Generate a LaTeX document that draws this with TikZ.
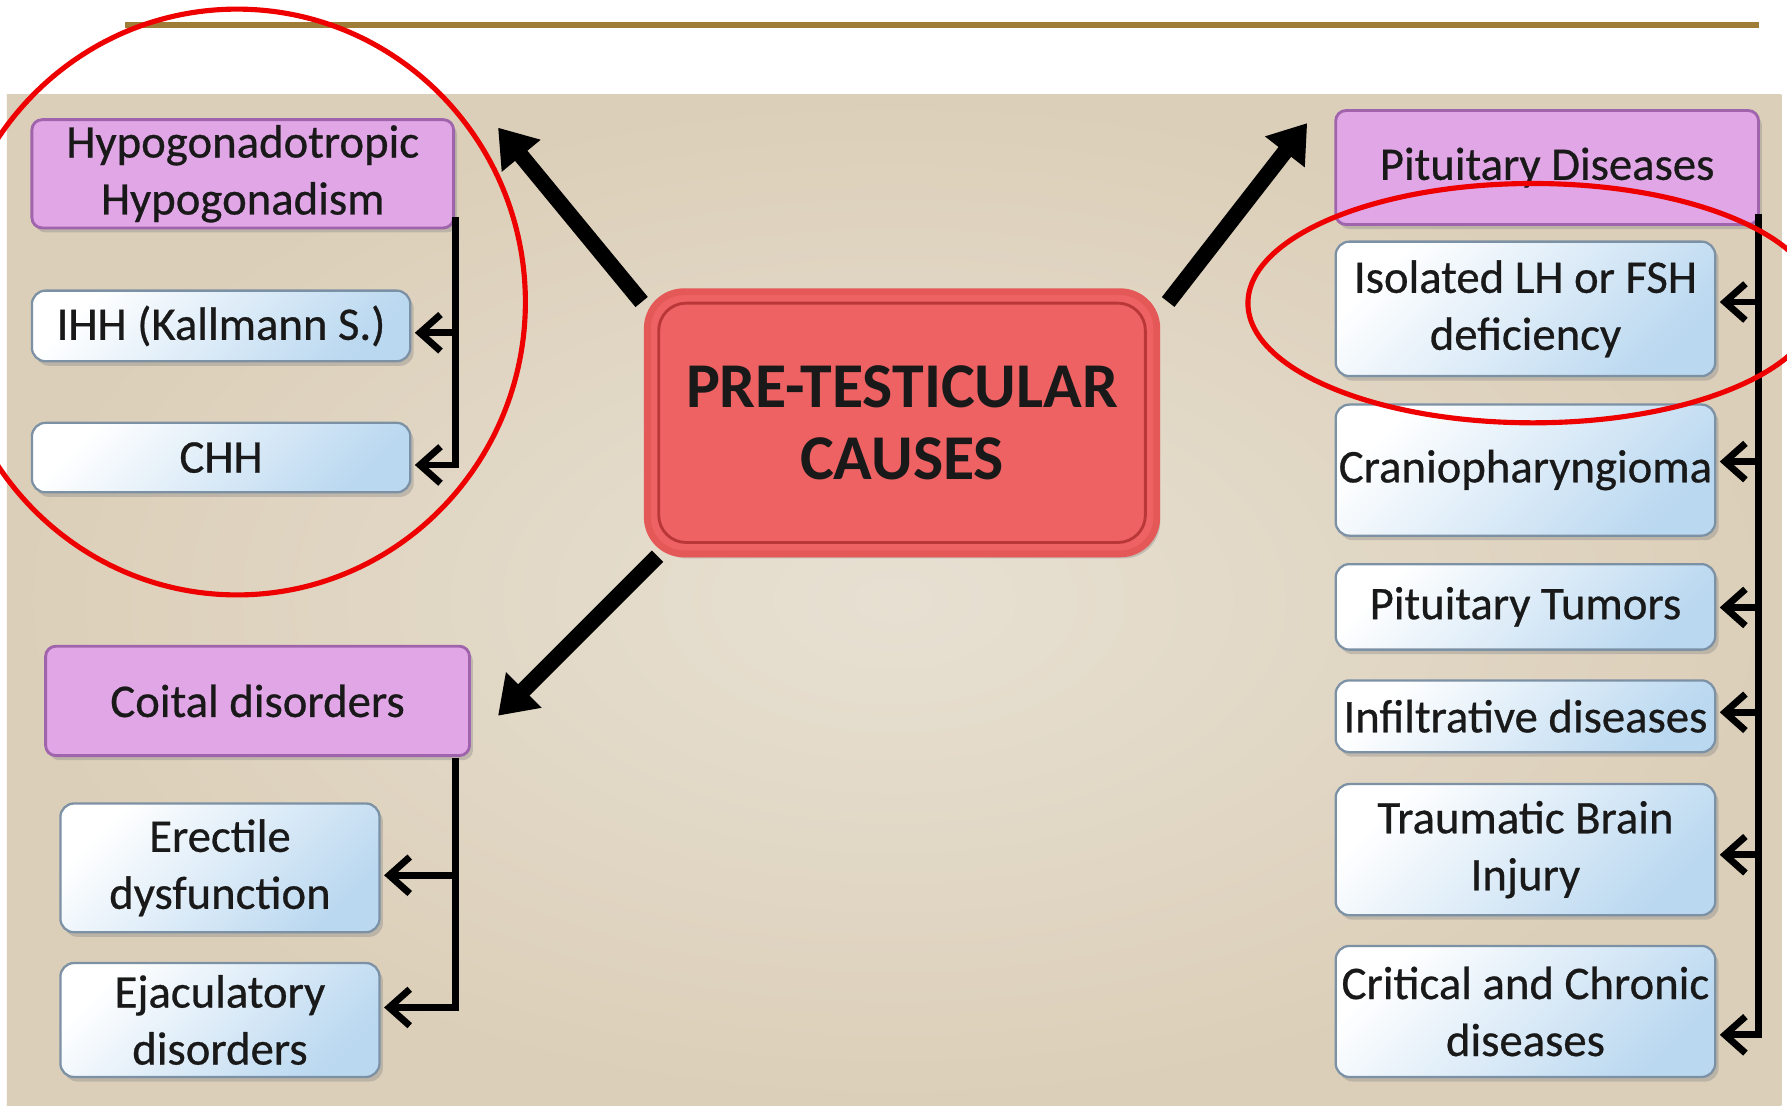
\documentclass[tikz,border=0pt]{standalone}
\usepackage{fontspec}
\setmainfont{Carlito}
\newfontfamily\boxfont{Carlito}[FakeBold=0.6]
\usetikzlibrary{arrows.meta,shadows}
\definecolor{gold}{RGB}{160,125,55}
\definecolor{bgin}{RGB}{231,224,210}
\definecolor{bgout}{RGB}{220,207,185}
\definecolor{purfill}{RGB}{224,166,230}
\definecolor{purline}{RGB}{160,100,172}
\definecolor{bluefill}{RGB}{186,216,240}
\definecolor{blueline}{RGB}{125,145,165}
\definecolor{redfill}{RGB}{238,98,100}
\definecolor{redring}{RGB}{228,88,88}
\definecolor{redline}{RGB}{185,55,55}
\definecolor{txt}{RGB}{25,25,25}
\definecolor{annred}{RGB}{238,0,0}
\tikzset{
  base/.style={inner sep=0pt, align=center, text=txt, font=\boxfont\fontsize{41}{50}\selectfont,
    drop shadow={shadow xshift=3pt, shadow yshift=-4pt, opacity=0.35}},
  purbox/.style={base, draw=purline, line width=2.5pt, fill=purfill, rounded corners=9pt},
  bluebox/.style={base, draw=blueline, line width=2pt, top color=white, bottom color=bluefill,
    shading angle=45, rounded corners=12pt},
  mainbox/.style={base, draw=redring, line width=6pt, fill=redfill, rounded corners=32pt,
    font=\fontsize{56}{64}\selectfont\bfseries},
  brk/.style={line width=6pt, black},
  barb/.style={brk, shorten >=3pt, -{Straight Barb[length=18pt,width=32pt,line width=6pt]}},
  bigarrow/.style={line width=14pt, black, -{Triangle[length=32pt,width=42pt]}},
  annot/.style={draw=annred, line width=4.5pt}
}
\begin{document}
\begin{tikzpicture}[x=1pt,y=-1pt]
\useasboundingbox (0,0) rectangle (1568,974);
\fill[white] (0,0) rectangle (1568,974);
% background panel
\shade[inner color=bgin, outer color=bgout] (6,83) rectangle (1563,970);
% gold rule
\draw[gold, line width=6pt] (110,22) -- (1543,22);

% centre node
\node[mainbox, minimum width=447pt, minimum height=230pt] (ptc) at (791.5,371) {PRE-TESTICULAR\\CAUSES};
\draw[redline, line width=2.5pt, rounded corners=24pt]
  ([xshift=13pt,yshift=-13pt]ptc.north west) rectangle ([xshift=-13pt,yshift=13pt]ptc.south east);

% left top group
\node[purbox, minimum width=370pt, minimum height=95pt] (hh) at (213,152.5) {Hypogonadotropic\\Hypogonadism};
\node[bluebox, minimum width=332pt, minimum height=62pt] (ihh) at (194,286) {IHH (Kallmann S.)};
\node[bluebox, minimum width=332pt, minimum height=61pt] (chh) at (194,401.5) {CHH};

% left bottom group
\node[purbox, minimum width=372pt, minimum height=96pt] (coit) at (226,615) {Coital disorders};
\node[bluebox, minimum width=280pt, minimum height=113pt] (erec) at (193,761.5) {Erectile\\dysfunction};
\node[bluebox, minimum width=280pt, minimum height=100pt] (ejac) at (193,895) {Ejaculatory\\disorders};

% right group
\node[purbox, minimum width=371pt, minimum height=100pt] (pit) at (1357.5,147) {Pituitary Diseases};
\node[bluebox, minimum width=333pt, minimum height=118pt] (iso) at (1338.5,271) {Isolated LH or FSH\\deficiency};
\node[bluebox, minimum width=333pt, minimum height=115pt] (cran) at (1338.5,412.5) {Craniopharyngioma};
\node[bluebox, minimum width=333pt, minimum height=75pt] (tum) at (1338.5,532.5) {Pituitary Tumors};
\node[bluebox, minimum width=333pt, minimum height=63pt] (inf) at (1338.5,628.5) {Infiltrative diseases};
\node[bluebox, minimum width=333pt, minimum height=115pt] (tbi) at (1338.5,745.5) {Traumatic Brain\\Injury};
\node[bluebox, minimum width=333pt, minimum height=115pt] (crit) at (1338.5,887.5) {Critical and Chronic\\diseases};

% big arrows from centre
\coordinate (t1) at (437,112);
\coordinate (t2) at (1147,108);
\coordinate (t3) at (437,628);
\draw[bigarrow] ([xshift=-2pt,yshift=-12pt]ptc.north west) -- (t1);
\draw[bigarrow] ([xshift=7pt,yshift=-12pt]ptc.north east) -- (t2);
\draw[bigarrow] ([xshift=12pt,yshift=1pt]ptc.south west) -- (t3);

% left top bracket
\coordinate (L0) at (400,190);
\coordinate (L1) at (400,292);
\coordinate (L2) at (400,408);
\draw[barb] (L1) -- (L1 -| ihh.east);
\draw[barb] (L0) |- (L2 -| chh.east);

% left bottom bracket
\coordinate (C0) at (400,665);
\coordinate (C1) at (400,768);
\coordinate (C2) at (400,884);
\draw[barb] (C1) -- (C1 -| erec.east);
\draw[barb] (C0) |- (C2 -| ejac.east);

% right bracket
\coordinate (R0) at (1543,188);
\coordinate (R1) at (1543,265);
\coordinate (R2) at (1543,405);
\coordinate (R3) at (1543,533);
\coordinate (R4) at (1543,625);
\coordinate (R5) at (1543,750);
\coordinate (R6) at (1543,908);
\draw[barb] (R1) -- (R1 -| iso.east);
\draw[barb] (R2) -- (R2 -| cran.east);
\draw[barb] (R3) -- (R3 -| tum.east);
\draw[barb] (R4) -- (R4 -| inf.east);
\draw[barb] (R5) -- (R5 -| tbi.east);
\draw[barb] (R0) |- (R6 -| crit.east);

% red annotation marks
\begin{scope}
\clip (0,0) rectangle (1568,974);
\draw[annot] (208,265) ellipse [x radius=253, y radius=257];
\draw[annot] (1345,266) ellipse [x radius=250, y radius=105];
\end{scope}
\end{tikzpicture}
\end{document}
